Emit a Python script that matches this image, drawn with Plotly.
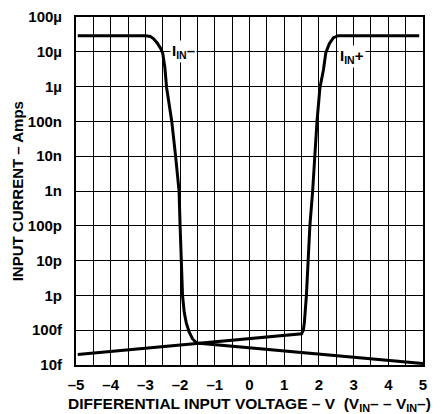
import numpy as np
import plotly.graph_objects as go

# I_IN- curve (volts, amps)
iin_minus_v = [-4.95, -3.20, -3.00, -2.86, -2.77, -2.66, -2.56, -2.50, -2.44, -2.39, -2.24,
               -2.13, -2.03, -2.00, -1.97, -1.93, -1.88, -1.82, -1.74, -1.64, -1.52, 5.00]
iin_minus_a = [2.9e-5, 2.9e-5, 2.88e-5, 2.75e-5, 2.4e-5, 1.8e-5, 1.25e-5, 9e-6, 3.6e-6, 9.5e-7, 1e-7,
               1e-8, 1e-9, 1e-10, 1e-11, 1e-12, 3.2e-13, 1.6e-13, 8.9e-14, 5.6e-14, 4.3e-14, 1.1e-14]

# I_IN+ curve
iin_plus_v = [-4.95, 1.50, 1.55, 1.58, 1.61, 1.64, 1.69, 1.74, 1.82, 1.88,
              1.945, 2.03, 2.13, 2.20, 2.30, 2.42, 2.56, 4.89]
iin_plus_a = [2.0e-14, 7.9e-14, 1e-13, 1.6e-13, 4e-13, 1e-12, 1e-11, 1e-10, 1e-9, 1e-8,
              1e-7, 9.3e-7, 3e-6, 9.5e-6, 1.7e-5, 2.55e-5, 2.9e-5, 2.9e-5]

y_tickvals = [1e-14, 1e-13, 1e-12, 1e-11, 1e-10, 1e-9, 1e-8, 1e-7, 1e-6, 1e-5, 1e-4]
y_ticktext = ["10f", "100f", "1p", "10p", "100p", "1n", "10n", "100n", "1\u00b5", "10\u00b5", "100\u00b5"]
x_tickvals = [-5, -4, -3, -2, -1, 0, 1, 2, 3, 4, 5]
x_ticktext = ["\u20135", "\u20134", "\u20133", "\u20132", "\u20131", "0", "1", "2", "3", "4", "5"]

# curve labels: (volts, amps, text)
label_minus = (-1.91, 1.02e-5, "I<sub>IN</sub>\u2013")
label_plus = (2.94, 7.2e-6, "I<sub>IN</sub>+")

FONT = "Liberation Sans, Arial, Helvetica, sans-serif"


def bold(s):
    return f"<b>{s}</b>"


fig = go.Figure()
fig.add_trace(go.Scatter(x=iin_minus_v, y=iin_minus_a, mode="lines",
                         line=dict(color="black", width=3), showlegend=False))
fig.add_trace(go.Scatter(x=iin_plus_v, y=iin_plus_a, mode="lines",
                         line=dict(color="black", width=3), showlegend=False))

for v, a, txt in (label_minus, label_plus):
    fig.add_annotation(x=v, y=np.log10(a), text=bold(txt), showarrow=False,
                       bgcolor="white", borderpad=1,
                       font=dict(family=FONT, size=15, color="black"))

# y title as a rotated annotation so it can sit close to the page edge
fig.add_annotation(xref="paper", yref="paper", x=-0.169, y=0.5, textangle=-90,
                   text=bold("INPUT CURRENT \u2013 Amps"), showarrow=False,
                   xanchor="center", yanchor="middle",
                   font=dict(family=FONT, size=15, color="black"))

# page body adds an 8px offset, so the figure is sized 8px smaller
fig.update_layout(
    width=433,
    height=406,
    margin=dict(l=68, r=18, t=9, b=49),
    paper_bgcolor="white",
    plot_bgcolor="white",
    font=dict(family=FONT, size=15, color="black"),
)
fig.update_xaxes(
    range=[-5, 5],
    tickvals=x_tickvals,
    ticktext=[bold(t) for t in x_ticktext],
    showgrid=True, gridcolor="black", gridwidth=1,
    minor=dict(dtick=0.5, showgrid=True, gridcolor="black", gridwidth=1),
    zeroline=False,
    showline=True, linecolor="black", linewidth=2, mirror=True,
    ticks="", ticklabelstandoff=5, automargin=False,
    tickfont=dict(family=FONT, size=15, color="black"),
    title=dict(text=bold("DIFFERENTIAL INPUT VOLTAGE \u2013 V\u00a0\u00a0(V<sub>IN</sub>\u2013 \u2013 V<sub>IN</sub>\u2013)"),
               font=dict(family=FONT, size=15.5, color="black"), standoff=6),
)
fig.update_yaxes(
    type="log",
    range=[-14, -4],
    tickvals=y_tickvals,
    ticktext=[bold(t) for t in y_ticktext],
    showgrid=True, gridcolor="black", gridwidth=1,
    zeroline=False,
    showline=True, linecolor="black", linewidth=2, mirror=True,
    ticks="", ticklabelstandoff=9, automargin=False,
    tickfont=dict(family=FONT, size=15, color="black"),
)

fig.write_html("out.html")
